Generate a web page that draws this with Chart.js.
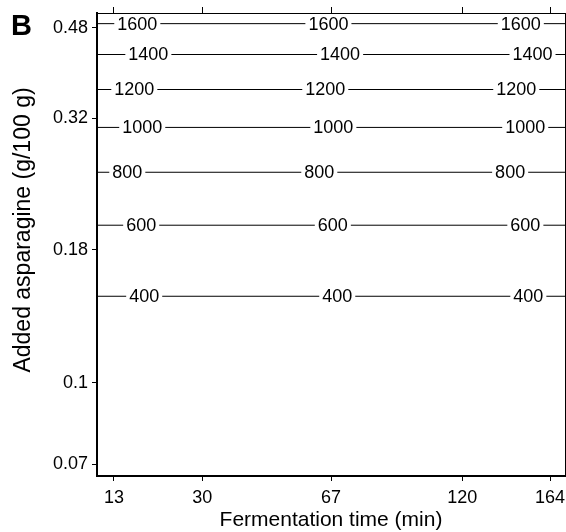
<!DOCTYPE html>
<html>
<head>
<meta charset="utf-8">
<script src="https://cdn.jsdelivr.net/npm/chart.js@4.4.1/dist/chart.umd.min.js"></script>
<style>
  body { margin: 0; background: #fff; }
  canvas { display: block; }
</style>
</head>
<body>
<canvas id="myChart" width="566" height="532"></canvas>
<script>
// axes are in coded design units (central composite design)
var xTickPos = [-1.67, -0.99, 0, 1.01, 1.685];
var xTickLabels = ["13", "30", "67", "120", "164"];
var yTickPos = [-1.61, -1, 0, 0.99, 1.67];
var yTickLabels = ["0.07", "0.1", "0.18", "0.32", "0.48"];

// contour levels and where each one sits
var levels = [400, 600, 800, 1000, 1200, 1400, 1600];
var levelY = [-0.349, 0.185, 0.583, 0.92, 1.205, 1.468, 1.70];
// x positions of the three inline labels on each contour
var labelX = [
    [-1.437, 0.048, 1.518],
    [-1.46, 0.014, 1.495],
    [-1.567, -0.09, 1.378],
    [-1.452, 0.018, 1.494],
    [-1.513, -0.044, 1.425],
    [-1.405, 0.07, 1.55],
    [-1.49, -0.02, 1.46]
];

var xMin = -1.8, xMax = 1.8;
var yMin = -1.70, yMax = 1.78;

Chart.defaults.font.family = "'Liberation Sans', Arial, sans-serif";
Chart.defaults.color = "#000";

var datasets = [];
for (var i = 0; i < levels.length; i++) {
    datasets.push({
        label: String(levels[i]),
        data: [{x: xMin, y: levelY[i]}, {x: xMax, y: levelY[i]}],
        showLine: true,
        borderColor: "#000",
        borderWidth: 1,
        pointRadius: 0
    });
}

// white box + text for the contour labels, and the extra texts
var contourLabels = {
    id: "contourLabels",
    afterDatasetsDraw: function(chart) {
        var ctx = chart.ctx;
        var sx = chart.scales.x, sy = chart.scales.y;
        ctx.save();
        ctx.font = "18px 'Liberation Sans', Arial, sans-serif";
        ctx.textAlign = "center";
        ctx.textBaseline = "middle";
        for (var i = 0; i < levels.length; i++) {
            var txt = String(levels[i]);
            var w = ctx.measureText(txt).width;
            var py = sy.getPixelForValue(levelY[i]);
            for (var j = 0; j < labelX[i].length; j++) {
                var px = sx.getPixelForValue(labelX[i][j]);
                ctx.fillStyle = "#fff";
                ctx.fillRect(px - w / 2 - 3, py - 5, w + 6, 10);
                ctx.fillStyle = "#000";
                ctx.fillText(txt, px, py + 1);
            }
        }
        ctx.restore();
    },
    afterDraw: function(chart) {
        var ctx = chart.ctx;
        ctx.save();
        ctx.fillStyle = "#000";
        // panel letter
        ctx.font = "bold 29px 'Liberation Sans', Arial, sans-serif";
        ctx.textAlign = "left";
        ctx.textBaseline = "alphabetic";
        ctx.fillText("B", 11, 35);
        // y axis title
        ctx.font = "23px 'Liberation Sans', Arial, sans-serif";
        ctx.translate(24, 230);
        ctx.rotate(-Math.PI / 2);
        ctx.textAlign = "center";
        ctx.textBaseline = "middle";
        ctx.fillText("Added asparagine (g/100 g)", 0, 0);
        ctx.restore();
    }
};

function noPadX(s, h) {
    s.height = h;
    s.paddingLeft = 0;
    s.paddingRight = 0;
}
function noPadY(s, w) {
    s.width = w;
    s.paddingTop = 0;
    s.paddingBottom = 0;
}

const ctx = document.getElementById("myChart").getContext("2d");
const myChart = new Chart(ctx, {
    type: "scatter",
    data: { datasets: datasets },
    options: {
        responsive: false,
        animation: false,
        layout: { padding: 0 },
        plugins: {
            legend: { display: false },
            tooltip: { enabled: false }
        },
        scales: {
            x: {
                type: "linear",
                position: "bottom",
                min: xMin,
                max: xMax,
                afterBuildTicks: function(s) {
                    s.ticks = xTickPos.map(function(v) { return {value: v}; });
                },
                afterFit: function(s) { noPadX(s, 56); },
                ticks: {
                    autoSkip: false,
                    maxRotation: 0,
                    padding: 6,
                    font: { size: 18 },
                    callback: function(v, i) { return xTickLabels[i]; }
                },
                grid: { drawOnChartArea: false, tickLength: 5, color: "#000" },
                border: { color: "#000", width: 2 },
                title: {
                    display: true,
                    text: "Fermentation time (min)",
                    font: { size: 21, lineHeight: 1 },
                    padding: { top: 0, bottom: 1 }
                }
            },
            x2: {
                type: "linear",
                position: "top",
                min: xMin,
                max: xMax,
                afterBuildTicks: function(s) {
                    s.ticks = xTickPos.map(function(v) { return {value: v}; });
                },
                afterFit: function(s) { noPadX(s, 13); },
                ticks: { display: false },
                grid: { drawOnChartArea: false, tickLength: 6, color: "#000" },
                border: { color: "#000", width: 1 }
            },
            y: {
                type: "linear",
                position: "left",
                min: yMin,
                max: yMax,
                afterBuildTicks: function(s) {
                    s.ticks = yTickPos.map(function(v) { return {value: v}; });
                },
                afterFit: function(s) { noPadY(s, 97); },
                ticks: {
                    autoSkip: false,
                    padding: 4,
                    font: { size: 18 },
                    callback: function(v, i) { return yTickLabels[i]; }
                },
                grid: { drawOnChartArea: false, tickLength: 5, color: "#000" },
                border: { color: "#000", width: 2 }
            },
            y2: {
                type: "linear",
                position: "right",
                min: yMin,
                max: yMax,
                afterFit: function(s) { noPadY(s, 1); },
                ticks: { display: false },
                grid: { display: false },
                border: { color: "#000", width: 1 }
            }
        }
    },
    plugins: [contourLabels]
});
</script>
</body>
</html>
